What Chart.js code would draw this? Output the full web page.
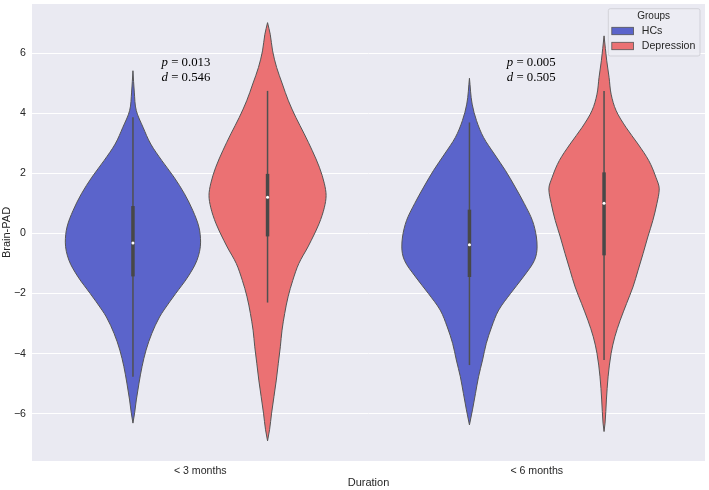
<!DOCTYPE html>
<html>
<head>
<meta charset="utf-8">
<script src="https://cdn.jsdelivr.net/npm/chart.js@4.4.0/dist/chart.umd.min.js"></script>
<style>
  html, body { margin: 0; padding: 0; background: #fff; }
  #wrap { width: 709px; height: 490px; }
</style>
</head>
<body>
<div id="wrap"><canvas id="violin"></canvas></div>
<script>
const categories = ["< 3 months", "< 6 months"];
const groups = ["HCs", "Depression"];
const groupColors = ["#5b64cb", "#eb7173"];
const yTicks = [-6, -4, -2, 0, 2, 4, 6];

// violin outlines: Brain-PAD level and half width (x axis units)
const hc3Levels = [5.41, 4.7, 4.08, 3.53, 2.97, 2.42, 1.87, 1.32, 0.76, 0.21, -0.29, -0.9, -1.45, -2.0, -2.55, -2.78, -3.33, -3.88, -4.43, -4.98, -5.54, -5.97, -6.31];
const hc3Widths = [0, 0.004, 0.010, 0.030, 0.053, 0.086, 0.122, 0.153, 0.178, 0.196, 0.201, 0.190, 0.163, 0.127, 0.092, 0.079, 0.056, 0.039, 0.027, 0.018, 0.010, 0.005, 0];

const dep3Levels = [7.01, 6.62, 6.07, 5.52, 4.97, 4.41, 3.86, 3.31, 2.75, 2.2, 1.65, 1.26, 0.87, 0.32, -0.23, -0.45, -1.0, -1.56, -2.11, -2.66, -3.22, -3.77, -4.32, -4.88, -5.43, -5.98, -6.53, -6.9];
const dep3Widths = [0, 0.008, 0.015, 0.027, 0.044, 0.062, 0.084, 0.109, 0.133, 0.154, 0.169, 0.174, 0.169, 0.153, 0.130, 0.120, 0.093, 0.075, 0.061, 0.051, 0.043, 0.038, 0.032, 0.026, 0.019, 0.012, 0.006, 0];

const hc6Levels = [5.16, 4.3, 3.75, 3.19, 2.64, 2.09, 1.54, 0.99, 0.43, -0.12, -0.45, -0.9, -1.45, -2.0, -2.55, -3.11, -3.66, -4.21, -4.77, -5.32, -5.87, -6.37];
const hc6Widths = [0, 0.008, 0.021, 0.042, 0.074, 0.107, 0.136, 0.163, 0.187, 0.199, 0.201, 0.193, 0.160, 0.122, 0.087, 0.066, 0.050, 0.039, 0.027, 0.018, 0.009, 0];

const dep6Levels = [6.57, 5.74, 5.18, 4.63, 4.08, 3.53, 2.97, 2.42, 1.87, 1.48, 0.99, 0.43, -0.12, -0.67, -1.23, -1.78, -2.33, -2.89, -3.44, -3.99, -4.77, -5.54, -6.31, -6.59];
const dep6Widths = [0, 0.008, 0.015, 0.021, 0.036, 0.065, 0.101, 0.133, 0.154, 0.164, 0.157, 0.145, 0.130, 0.116, 0.101, 0.086, 0.067, 0.048, 0.032, 0.021, 0.012, 0.007, 0.003, 0];

// inner box stats, one value per duration
const hcWhiskerLow = [-4.77, -4.38];
const hcWhiskerHigh = [3.86, 3.69];
const hcQ1 = [-1.43, -1.45];
const hcQ3 = [0.91, 0.79];
const hcMedian = [-0.32, -0.38];

const depWhiskerLow = [-2.3, -4.21];
const depWhiskerHigh = [4.74, 4.74];
const depQ1 = [-0.1, -0.73];
const depQ3 = [1.98, 2.03];
const depMedian = [1.2, 1.0];

const pValues = ["0.013", "0.005"];
const dValues = ["0.546", "0.505"];

Chart.defaults.font.family = "'Liberation Sans', Arial, sans-serif";
Chart.defaults.color = "#262626";

// one edge of a violin, ordered bottom to top so it is monotone along y
function edgePoints(center, levels, widths, side) {
  const pts = [];
  for (let i = levels.length - 1; i >= 0; i--) {
    pts.push({ x: center + side * widths[i], y: levels[i] });
  }
  return pts;
}

const violins = [
  { cat: 0, grp: 0, levels: hc3Levels, widths: hc3Widths },
  { cat: 0, grp: 1, levels: dep3Levels, widths: dep3Widths },
  { cat: 1, grp: 0, levels: hc6Levels, widths: hc6Widths },
  { cat: 1, grp: 1, levels: dep6Levels, widths: dep6Widths },
];
const stats = [
  { low: hcWhiskerLow, high: hcWhiskerHigh, q1: hcQ1, q3: hcQ3, med: hcMedian },
  { low: depWhiskerLow, high: depWhiskerHigh, q1: depQ1, q3: depQ3, med: depMedian },
];
const dodge = [-0.2, 0.2];

const datasets = [];
violins.forEach((v) => {
  const c = v.cat + dodge[v.grp];
  const s = stats[v.grp];
  // right edge, filled across to the left edge (next dataset)
  datasets.push({
    label: groups[v.grp],
    data: edgePoints(c, v.levels, v.widths, 1),
    indexAxis: "y",
    showLine: true,
    fill: "+1",
    backgroundColor: groupColors[v.grp],
    borderColor: "#555555",
    borderWidth: 1,
    cubicInterpolationMode: "monotone",
    pointRadius: 0,
    order: 4,
  });
  datasets.push({
    data: edgePoints(c, v.levels, v.widths, -1),
    indexAxis: "y",
    showLine: true,
    fill: false,
    borderColor: "#555555",
    borderWidth: 1,
    cubicInterpolationMode: "monotone",
    pointRadius: 0,
    order: 3,
  });
  datasets.push({
    data: [{ x: c, y: s.low[v.cat] }, { x: c, y: s.high[v.cat] }],
    indexAxis: "y",
    showLine: true,
    fill: false,
    borderColor: "#505050",
    borderWidth: 1.5,
    pointRadius: 0,
    order: 2,
  });
  datasets.push({
    data: [{ x: c, y: s.q1[v.cat] }, { x: c, y: s.q3[v.cat] }],
    indexAxis: "y",
    showLine: true,
    fill: false,
    borderColor: "#484848",
    borderWidth: 3.5,
    borderCapStyle: "butt",
    pointRadius: 0,
    order: 1,
  });
  datasets.push({
    data: [{ x: c, y: s.med[v.cat] }],
    indexAxis: "y",
    showLine: false,
    pointRadius: 1.5,
    pointBackgroundColor: "#ffffff",
    pointBorderWidth: 0,
    order: 0,
  });
});

// plot background, stats text and legend
const decorations = {
  id: "decorations",
  beforeDraw(chart) {
    const { ctx, chartArea: a } = chart;
    ctx.save();
    ctx.fillStyle = "#eaeaf2";
    ctx.fillRect(a.left, a.top, a.right - a.left, a.bottom - a.top);
    ctx.restore();
  },
  afterDatasetsDraw(chart) {
    const { ctx, scales } = chart;
    const textX = [-0.115, -0.089];
    ctx.save();
    ctx.fillStyle = "#000";
    ctx.textBaseline = "alphabetic";
    pValues.forEach((p, i) => {
      const x = scales.x.getPixelForValue(i + textX[i]);
      const lines = [["p", " = " + p, 5.58], ["d", " = " + dValues[i], 5.07]];
      lines.forEach(([sym, rest, yv]) => {
        const y = scales.y.getPixelForValue(yv);
        ctx.font = "italic 12.8px 'Liberation Serif', 'Times New Roman', serif";
        ctx.fillText(sym, x, y);
        const w = ctx.measureText(sym).width;
        ctx.font = "12.8px 'Liberation Serif', 'Times New Roman', serif";
        ctx.fillText(rest, x + w, y);
      });
    });
    ctx.restore();
  },
  afterDraw(chart) {
    const { ctx, chartArea: a } = chart;
    const bx = a.right - 97.2, by = a.top + 4.2, bw = 91.7, bh = 47.3;
    ctx.save();
    ctx.beginPath();
    ctx.roundRect(bx + 0.5, by + 0.5, bw, bh, 2);
    ctx.fillStyle = "rgba(236,236,243,0.9)";
    ctx.fill();
    ctx.strokeStyle = "rgba(204,204,210,0.8)";
    ctx.lineWidth = 1;
    ctx.stroke();
    ctx.fillStyle = "#262626";
    ctx.textBaseline = "middle";
    ctx.textAlign = "center";
    ctx.font = "10px 'Liberation Sans', Arial, sans-serif";
    ctx.fillText("Groups", bx + bw / 2, by + 8.5);
    ctx.textAlign = "left";
    ctx.font = "10.6px 'Liberation Sans', Arial, sans-serif";
    groups.forEach((g, i) => {
      const ry = by + 22.8 + i * 15;
      ctx.fillStyle = groupColors[i];
      ctx.fillRect(bx + 4, ry - 3.7, 21.7, 7.4);
      ctx.strokeStyle = "#555555";
      ctx.lineWidth = 0.8;
      ctx.strokeRect(bx + 4, ry - 3.7, 21.7, 7.4);
      ctx.fillStyle = "#262626";
      ctx.fillText(g, bx + 34, ry + 0.5);
    });
    ctx.restore();
  },
};

new Chart(document.getElementById("violin").getContext("2d"), {
  type: "scatter",
  data: { datasets: datasets },
  options: {
    indexAxis: "y",
    responsive: true,
    maintainAspectRatio: false,
    animation: false,
    devicePixelRatio: 1,
    layout: { padding: { top: 2, right: 2, left: 0, bottom: 0 } },
    plugins: {
      legend: { display: false },
      tooltip: { enabled: false },
    },
    scales: {
      x: {
        type: "linear",
        position: "bottom",
        min: -0.5,
        max: 1.5,
        grid: { display: false, drawTicks: false },
        border: { display: false },
        afterBuildTicks: (scale) => {
          scale.ticks = categories.map((c, i) => ({ value: i }));
        },
        afterFit: (scale) => {
          scale.height = 29;
          scale.paddingLeft = 0;
          scale.paddingRight = 0;
        },
        ticks: {
          padding: 4,
          maxRotation: 0,
          font: { size: 10.6 },
          color: "#262626",
          callback: (v) => categories[v],
        },
        title: {
          display: true,
          text: "Duration",
          font: { size: 11 },
          color: "#262626",
          padding: 0,
        },
      },
      y: {
        type: "linear",
        position: "left",
        min: -7.57,
        max: 7.63,
        grid: { color: "#ffffff", lineWidth: 1, drawTicks: false },
        border: { display: false },
        afterBuildTicks: (scale) => {
          scale.ticks = yTicks.map((v) => ({ value: v }));
        },
        afterFit: (scale) => {
          scale.width = 32;
          scale.paddingTop = 0;
          scale.paddingBottom = 0;
        },
        ticks: {
          padding: 6,
          font: { size: 10.6 },
          color: "#262626",
          callback: (v) => String(v).replace("-", "\u2212"),
        },
        title: {
          display: true,
          text: "Brain-PAD",
          font: { size: 11 },
          color: "#262626",
          padding: 0,
        },
      },
    },
  },
  plugins: [decorations],
});
</script>
</body>
</html>
